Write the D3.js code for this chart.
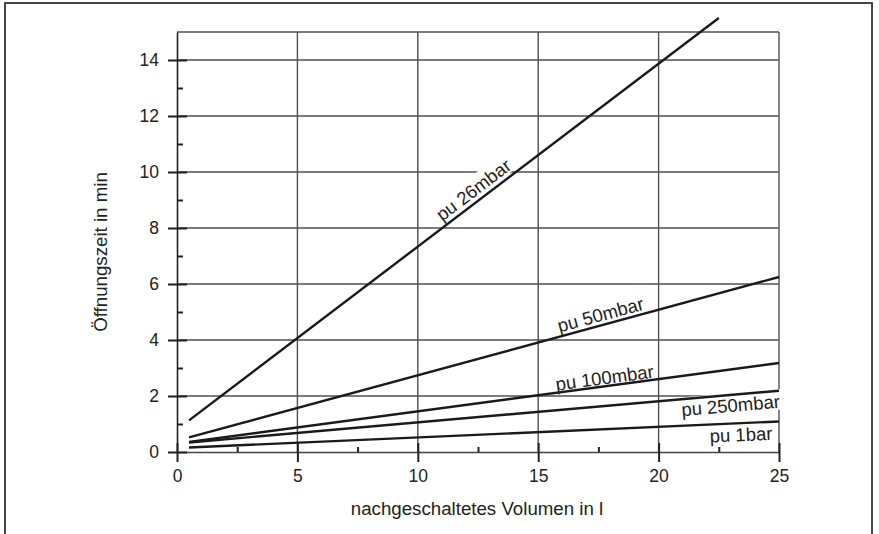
<!DOCTYPE html>
<html>
<head>
<meta charset="utf-8">
<script src="https://cdn.jsdelivr.net/npm/d3@7"></script>
<style>
  html, body { margin: 0; padding: 0; background: #fff; }
  svg { display: block; font-family: "Liberation Sans", Arial, sans-serif; }
</style>
</head>
<body>
<svg id="chart" width="879" height="534"></svg>
<script>
// ---- data ----
const seriesNames = ["pu 26mbar", "pu 50mbar", "pu 100mbar", "pu 250mbar", "pu 1bar"];
const volume26 = [0.5, 22.5];
const time26 = [1.13, 15.5];
const volumeOther = [0.5, 25];
const time50 = [0.52, 6.25];
const time100 = [0.36, 3.18];
const time250 = [0.34, 2.19];
const time1bar = [0.16, 1.09];
const xMajorTicks = [0, 5, 10, 15, 20, 25];
const xMinorTicks = [2.5, 7.5, 12.5, 17.5, 22.5];
const yMajorTicks = [0, 2, 4, 6, 8, 10, 12, 14];
const yMinorTicks = [1, 3, 5, 7, 9, 11, 13];
const xTitle = "nachgeschaltetes Volumen in l";
const yTitle = "Öffnungszeit in min";

const seriesData = [
  volume26.map((v, i) => [v, time26[i]]),
  volumeOther.map((v, i) => [v, time50[i]]),
  volumeOther.map((v, i) => [v, time100[i]]),
  volumeOther.map((v, i) => [v, time250[i]]),
  volumeOther.map((v, i) => [v, time1bar[i]])
];
// label placement: position along line (volume) and baseline offset perpendicular to line
const labelAt = [12.6, 17.7, 17.8, 22.95, 23.4];
const labelShift = [5, 4, 2, -17, -18];

// ---- layout ----
const svg = d3.select("#chart");
const L = 177, R = 779, T = 32, B = 452;
const x = d3.scaleLinear().domain([0, 25]).range([L, R]);
const y = d3.scaleLinear().domain([0, 15]).range([B, T]);
const FONT = "Liberation Sans, Arial, sans-serif";

// outer frame
svg.append("rect").attr("x", 5).attr("y", 3).attr("width", 867).attr("height", 560)
  .attr("fill", "none").attr("stroke", "#333").attr("stroke-width", 1.8);

// grid
const grid = svg.append("g").attr("stroke", "#505050").attr("stroke-width", 1.4);
[2, 4, 6, 8, 10, 12, 14, 15].forEach(v => {
  grid.append("line").attr("x1", x(0)).attr("x2", x(25)).attr("y1", y(v)).attr("y2", y(v));
});
[5, 10, 15, 20, 25].forEach(v => {
  grid.append("line").attr("x1", x(v)).attr("x2", x(v)).attr("y1", y(0)).attr("y2", y(15));
});

// label placement
const lineGen = d3.line().x(d => x(d[0])).y(d => y(d[1]));
const fontSize = 18.5;
const labelGroups = seriesData.map((pts, i) => {
  const p0 = pts[0], p1 = pts[pts.length - 1];
  const ang = Math.atan2(y(p1[1]) - y(p0[1]), x(p1[0]) - x(p0[0])) * 180 / Math.PI;
  const lv = labelAt[i];
  const lt = p0[1] + (p1[1] - p0[1]) * (lv - p0[0]) / (p1[0] - p0[0]);
  return { ang, px: x(lv), py: y(lt), shift: labelShift[i], name: seriesNames[i] };
});

const bgLayer = svg.append("g");
const lineLayer = svg.append("g");
const textLayer = svg.append("g");

labelGroups.forEach(lg => {
  const tr = `translate(${lg.px},${lg.py}) rotate(${lg.ang}) translate(0,${-lg.shift})`;
  const t = textLayer.append("g").attr("transform", tr)
    .append("text").attr("text-anchor", "middle").attr("font-size", fontSize)
    .attr("font-family", FONT).attr("fill", "#222").text(lg.name);
  const w = t.node().getComputedTextLength();
  bgLayer.append("rect").attr("transform", tr)
    .attr("x", -w / 2 - 2).attr("y", -fontSize * 0.9 - 2).attr("width", w + 4)
    .attr("height", fontSize * 0.9 + 4).attr("fill", "#fff");
});

// data lines
seriesData.forEach(pts => {
  lineLayer.append("path").attr("d", lineGen(pts)).attr("fill", "none")
    .attr("stroke", "#1a1a1a").attr("stroke-width", 2.4);
});

// axes
const xAxis = svg.append("g").attr("transform", `translate(0,${B})`)
  .call(d3.axisBottom(x).tickValues(xMajorTicks).tickSize(10).tickPadding(8).tickSizeOuter(0));
xAxis.selectAll(".tick line").attr("y1", -9).attr("stroke", "#222").attr("stroke-width", 2);
xAxis.select(".domain").attr("stroke", "#444").attr("stroke-width", 1.5);
xAxis.selectAll("text").attr("font-size", 17.5).attr("fill", "#222").attr("font-family", FONT);

const xMinor = svg.append("g").attr("transform", `translate(0,${B})`)
  .call(d3.axisBottom(x).tickValues(xMinorTicks).tickSize(-5).tickFormat(""));
xMinor.select(".domain").remove();
xMinor.selectAll(".tick line").attr("stroke", "#222").attr("stroke-width", 2);

const yAxis = svg.append("g").attr("transform", `translate(${L},0)`)
  .call(d3.axisLeft(y).tickValues(yMajorTicks).tickSize(9).tickPadding(9).tickSizeOuter(0));
yAxis.selectAll(".tick line").attr("x1", 10).attr("stroke", "#222").attr("stroke-width", 2);
yAxis.select(".domain").attr("stroke", "#222").attr("stroke-width", 1.6);
yAxis.selectAll("text").attr("font-size", 17.5).attr("fill", "#222").attr("font-family", FONT);

const yMinor = svg.append("g").attr("transform", `translate(${L},0)`)
  .call(d3.axisLeft(y).tickValues(yMinorTicks).tickSize(-6).tickFormat(""));
yMinor.select(".domain").remove();
yMinor.selectAll(".tick line").attr("stroke", "#222").attr("stroke-width", 2);

// titles
svg.append("text").attr("x", 477).attr("y", 515).attr("text-anchor", "middle")
  .attr("font-size", 18.7).attr("font-family", FONT).attr("fill", "#222").text(xTitle);
svg.append("text").attr("transform", "translate(107,252) rotate(-90)").attr("text-anchor", "middle")
  .attr("font-size", 18.7).attr("font-family", FONT).attr("fill", "#222").text(yTitle);
</script>
</body>
</html>
